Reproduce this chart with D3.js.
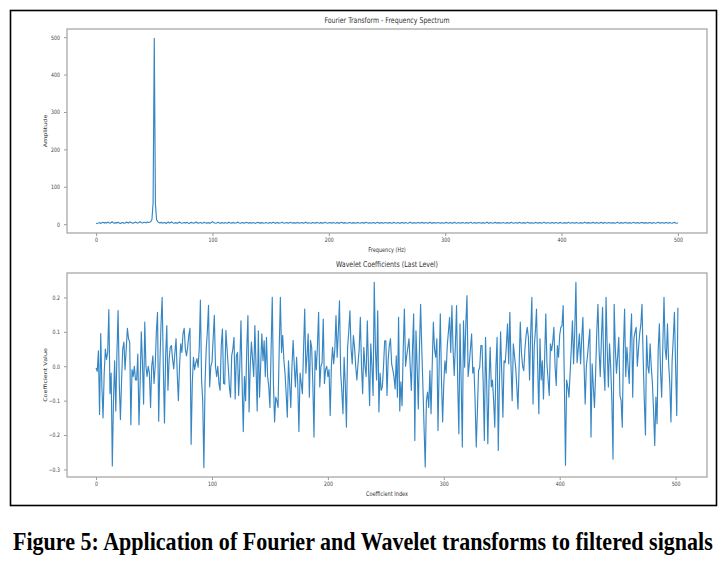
<!DOCTYPE html>
<html>
<head>
<meta charset="utf-8">
<script src="https://cdn.jsdelivr.net/npm/d3@7/dist/d3.min.js"></script>
<style>
  body { margin: 0; background: #fff; }
  svg { display: block; }
  .tick text { font-family: "DejaVu Sans", sans-serif; font-size: 6px; fill: #444; }
  .tick line { stroke: #999; }
  .domain { display: none; }
</style>
</head>
<body>
<svg id="fig" width="725" height="567"></svg>
<script>
// FFT amplitude, bins 0..500 Hz
const fftAmp = [
  1.2,2.5,3.1,4.0,2.2,3.6,5.1,2.8,4.4,3.0,5.6,3.9,2.4,4.8,6.2,3.3,2.7,4.1,3.5,5.0,2.9,1.8,3.7,4.6,2.3,
  3.2,5.4,4.2,3.0,6.0,4.7,3.4,2.6,4.3,5.8,3.8,2.9,4.9,6.4,4.0,3.1,5.2,4.5,3.6,6.1,4.4,5.3,7.0,12.5,58.0,
  497.0,54.0,11.8,6.5,4.2,3.1,5.0,2.7,3.8,4.6,2.2,3.5,5.7,3.0,4.1,6.3,3.3,2.5,4.0,3.6,2.1,4.8,5.5,3.2,2.6,
  3.9,4.4,2.8,5.1,3.4,2.0,3.7,4.9,3.1,2.4,4.2,5.6,3.3,2.9,3.8,4.5,2.6,3.0,5.2,3.6,2.3,4.0,3.4,2.7,4.7,
  6.8,4.1,3.2,2.5,3.9,5.0,3.1,2.2,4.3,3.5,2.8,4.6,3.0,2.4,5.3,3.7,2.9,3.4,4.8,2.6,3.2,4.0,5.5,3.1,2.3,
  3.6,4.4,2.7,3.1,5.0,3.8,2.5,4.2,3.3,2.9,4.6,3.0,2.2,3.9,5.2,3.4,2.8,4.1,3.6,2.4,3.2,4.7,3.0,2.6,4.3,
  3.5,2.9,5.1,3.7,2.3,3.4,4.5,2.8,3.1,4.0,5.4,3.2,2.6,3.8,4.4,2.7,3.3,5.0,3.6,2.5,4.2,3.0,2.9,4.8,3.4,
  2.4,3.7,4.1,2.8,3.2,5.3,3.5,2.6,4.0,3.1,2.3,4.6,3.8,2.9,3.4,4.9,3.0,2.5,4.3,3.6,2.7,3.9,5.1,3.2,2.4,
  3.8,4.2,2.9,3.3,4.7,3.1,2.6,4.4,3.5,2.2,3.7,5.0,3.4,2.8,4.1,3.0,2.5,3.9,4.6,3.2,2.7,4.3,3.6,2.4,3.5,
  4.8,3.1,2.6,3.9,4.4,2.8,3.3,5.2,3.7,2.5,4.0,3.2,2.9,4.5,3.4,2.3,3.6,4.9,3.0,2.7,4.2,3.5,2.4,3.8,4.6,
  3.1,2.8,4.3,3.6,2.5,3.4,5.0,3.2,2.6,4.1,3.7,2.3,3.5,4.7,3.0,2.9,4.4,3.3,2.4,3.9,5.3,3.1,2.7,4.0,3.6,
  2.5,3.8,4.5,2.9,3.2,4.8,3.4,2.6,4.2,3.7,2.3,3.5,5.1,3.0,2.8,4.3,3.6,2.4,3.9,4.6,3.1,2.7,4.0,3.3,2.5,
  3.7,4.9,3.2,2.6,4.4,3.5,2.8,3.4,5.2,3.1,2.4,4.1,3.8,2.9,3.3,4.7,3.0,2.5,4.2,3.6,2.7,3.9,5.0,3.2,2.6,
  4.3,3.4,2.3,3.8,4.5,3.1,2.8,4.0,3.5,2.5,3.6,5.3,3.0,2.7,4.4,3.2,2.4,3.9,4.8,3.3,2.9,4.1,3.6,2.5,3.7,
  4.6,3.1,2.6,4.2,3.4,2.8,3.5,5.0,3.2,2.4,4.0,3.7,2.9,3.3,4.9,3.0,2.5,4.3,3.6,2.7,3.8,5.1,3.4,2.6,4.1,
  3.2,2.3,3.9,4.7,3.1,2.8,4.4,3.5,2.5,3.6,5.2,3.3,2.7,4.0,3.8,2.4,3.4,4.6,3.0,2.9,4.2,3.7,2.6,3.5,4.8,
  3.1,2.5,4.1,3.6,2.8,3.3,5.0,3.2,2.4,4.3,3.9,2.7,3.4,4.5,3.0,2.6,4.0,3.5,2.3,3.7,5.3,3.1,2.8,4.2,3.6,
  2.5,3.8,4.9,3.2,2.7,4.4,3.4,2.6,3.5,5.1,3.0,2.9,4.1,3.7,2.4,3.6,4.6,3.3,2.8,4.0,3.5,2.5,3.9,5.4,3.1,
  2.6,4.3,3.6,2.4,3.8,4.7,3.2,2.9,4.0,3.4,2.5,3.7,5.0,3.1,2.7,4.2,3.5,2.6,3.9,4.8,3.3,2.8,4.1,3.6,2.4,
  3.5,4.5,3.0,2.7,4.3,3.2,2.5,3.8,5.2,3.4,2.9,4.0,3.7,2.3,3.6,4.6,3.1,2.8,4.4,3.3,2.6,3.9,4.9,3.0,2.5,
  3.4
];

// last-level wavelet coefficients, index 0..502
const waveCoef = [
  -0.005,-0.015,0.045,-0.14,0.095,-0.06,-0.15,-0.02,0.05,0.02,0.04,0.165,-0.08,-0.02,-0.29,-0.1,0.016,-0.13,0.04,0.162,-0.05,-0.155,-0.04,0.05,0.07,
  -0.01,0.05,0.11,0.08,0.07,-0.17,-0.01,-0.03,0.0,-0.04,-0.04,0.035,-0.17,-0.05,0.10,0.01,-0.11,0.128,0.0,-0.03,0.0,-0.02,-0.12,0.0,0.03,
  -0.05,0.0,0.1,0.157,-0.16,0.0,0.12,0.2,0.0,-0.165,0.03,0.118,-0.07,0.02,0.055,0.06,0.02,-0.008,0.04,0.08,-0.02,-0.1,0.0,0.065,0.04,
  0.095,0.11,0.05,0.03,0.055,0.09,0.11,-0.227,-0.05,0.026,-0.01,0.01,0.022,-0.003,0.05,0.192,-0.04,-0.1,-0.295,-0.05,0.05,0.1,0.177,-0.06,0.0,
  0.012,0.08,0.148,0.0,-0.03,0.0,-0.05,-0.07,0.06,0.108,-0.05,-0.052,0.104,0.05,0.0,-0.06,-0.09,0.03,0.05,0.084,-0.095,0.03,0.04,-0.085,0.0,
  0.132,-0.05,-0.19,-0.03,-0.1,0.05,0.147,-0.133,0.0,0.07,0.02,-0.03,0.118,0.0,-0.13,0.103,-0.09,0.0,0.094,0.016,0.074,-0.03,0.084,-0.03,-0.06,
  -0.12,0.05,0.2,-0.05,-0.162,-0.09,-0.1,-0.12,0.05,0.2,0.04,0.09,0.02,-0.02,-0.08,-0.148,0.016,-0.05,-0.12,0.0,0.075,0.0,-0.06,0.026,-0.05,
  -0.19,-0.02,-0.05,-0.08,0.05,0.166,-0.02,0.03,0.094,-0.09,0.075,0.055,-0.05,-0.206,0.045,-0.01,0.06,0.157,-0.06,0.0,0.01,0.137,-0.05,-0.01,0.0,
  -0.03,-0.01,-0.143,0.0,0.055,0.007,0.05,0.147,0.026,0.1,0.19,-0.018,-0.07,-0.138,0.026,-0.05,-0.177,0.055,0.1,0.161,0.05,0.007,0.089,0.055,0.0,
  -0.04,0.007,0.05,0.142,0.0,-0.08,0.055,0.0,-0.03,0.132,0.0,-0.114,0.065,0.0,-0.085,0.244,0.05,-0.04,0.161,-0.133,-0.02,-0.07,-0.06,0.0,0.074,
  0.074,-0.085,0.02,0.06,0.08,0.007,-0.01,-0.03,-0.066,0.03,-0.09,0.142,-0.13,-0.045,-0.115,0.05,0.166,0.0,0.03,0.055,0.08,0.0,-0.07,0.05,0.152,
  -0.216,0.103,0.0,-0.124,0.05,0.18,0.05,-0.06,-0.18,-0.293,-0.1,-0.075,-0.12,-0.013,-0.138,0.0,0.128,0.05,0.026,0.08,-0.187,0.0,0.152,-0.04,-0.162,
  -0.05,0.016,-0.02,0.06,0.1,0.142,0.04,0.176,0.05,-0.027,0.06,0.176,-0.05,-0.196,0.123,-0.05,-0.235,0.132,-0.003,0.12,0.205,-0.03,0.007,0.05,0.094,
  -0.02,-0.003,-0.1,-0.235,-0.13,-0.013,-0.003,0.06,0.06,-0.05,-0.216,0.084,-0.05,-0.225,-0.05,0.055,-0.06,-0.04,-0.1,-0.177,0.0,0.084,-0.245,-0.05,0.1,
  -0.02,-0.148,0.016,0.01,0.06,0.123,0.007,0.157,0.0,-0.1,0.065,0.03,-0.003,-0.06,-0.124,0.0,0.128,0.04,0.0,-0.013,0.05,0.09,0.113,0.084,-0.04,
  0.1,0.2,-0.11,0.055,0.1,0.166,0.0,-0.138,0.08,-0.04,0.016,-0.095,0.02,0.152,0.007,-0.04,-0.085,0.065,0.045,0.07,0.113,0.0,-0.056,0.06,0.026,
  0.09,0.113,0.118,0.176,-0.04,-0.288,-0.04,-0.06,-0.09,-0.02,0.05,0.132,0.007,0.1,0.244,0.01,0.05,0.094,0.007,0.08,0.142,0.007,-0.11,0.0,0.03,
  0.07,0.108,-0.206,0.007,-0.06,-0.12,-0.02,0.1,0.18,0.045,-0.03,0.08,0.171,0.0,-0.07,0.2,0.05,-0.06,0.065,0.0,-0.1,-0.27,0.18,0.05,-0.02,
  0.03,0.084,-0.085,-0.1,-0.177,0.05,0.166,-0.03,0.055,0.0,-0.05,0.08,0.152,-0.09,0.08,0.1,0.113,0.0,0.05,0.094,0.12,0.18,0.026,-0.1,-0.2,
  0.089,0.0,-0.02,0.065,0.0,-0.05,-0.13,-0.23,-0.09,-0.167,0.05,0.123,-0.013,-0.09,0.06,0.2,0.05,0.02,0.123,0.007,-0.05,-0.162,0.016,0.08,0.157,
  0.0,-0.143,0.17
];

const fftTicksX = [0, 100, 200, 300, 400, 500];
const fftTicksY = [0, 100, 200, 300, 400, 500];
const waveTicksX = [0, 100, 200, 300, 400, 500];
const waveTicksY = [-0.3, -0.2, -0.1, 0.0, 0.1, 0.2];

const sx = 0.78; // the figure is squeezed sideways, text too
const svg = d3.select("#fig");

// outer frame
svg.append("rect")
  .attr("x", 10.5).attr("y", 10.5)
  .attr("width", 706).attr("height", 495)
  .attr("fill", "none").attr("stroke", "#000").attr("stroke-width", 1.6);

function hText(x, y, str, size, opts) {
  opts = opts || {};
  return svg.append("text")
    .attr("transform", "translate(" + x + "," + y + ")" + (opts.rotate ? " rotate(-90)" : "") + " scale(" + (opts.rotate ? 1 : sx) + "," + (opts.rotate ? sx : 1) + ")")
    .attr("text-anchor", "middle")
    .attr("font-family", opts.family || "DejaVu Sans, sans-serif")
    .attr("font-size", size)
    .attr("fill", opts.fill || "#333")
    .text(str);
}

function panel(box, xs, ys, vals, xTicks, yTicks, yFmt, title, xLabel, yLabel) {
  const g = svg.append("g");
  const x = d3.scaleLinear().domain(xs).range([box.left, box.right]);
  const y = d3.scaleLinear().domain(ys).range([box.bottom, box.top]);

  g.append("g")
    .attr("transform", "translate(0," + box.bottom + ")")
    .call(d3.axisBottom(x).tickValues(xTicks).tickSize(3).tickPadding(2))
    .selectAll("text").attr("transform", "scale(" + sx + ",1)");

  g.append("g")
    .attr("transform", "translate(" + box.left + ",0)")
    .call(d3.axisLeft(y).tickValues(yTicks).tickSize(3).tickFormat(yFmt))
    .selectAll("text")
      .attr("x", -7 / sx)
      .attr("transform", "scale(" + sx + ",1)");

  const line = d3.line()
    .x(function(d, i) { return x(i); })
    .y(function(d) { return y(d); });

  g.append("path")
    .datum(vals)
    .attr("fill", "none")
    .attr("stroke", "#3686c4")
    .attr("stroke-width", 1.15)
    .attr("stroke-linejoin", "round")
    .attr("d", line);

  g.append("rect")
    .attr("x", box.left).attr("y", box.top)
    .attr("width", box.right - box.left).attr("height", box.bottom - box.top)
    .attr("fill", "none").attr("stroke", "#a8a8a8").attr("stroke-width", 1.3);

  const cx = (box.left + box.right) / 2;
  hText(cx, box.top - 6, title, 8);
  hText(cx, box.bottom + 19, xLabel, 6.4);
  hText(box.left - 20, (box.top + box.bottom) / 2, yLabel, 6.4, {rotate: true});
}

// matplotlib-like 5% margins
function padded(lo, hi) {
  const m = (hi - lo) * 0.05;
  return [lo - m, hi + m];
}

panel({left: 67, right: 707, top: 29, bottom: 233},
  padded(0, fftAmp.length - 1), padded(d3.min(fftAmp), d3.max(fftAmp)),
  fftAmp, fftTicksX, fftTicksY, d3.format("d"),
  "Fourier Transform - Frequency Spectrum", "Frequency (Hz)", "Amplitude");

panel({left: 67, right: 707, top: 273, bottom: 477},
  padded(0, waveCoef.length - 1), padded(d3.min(waveCoef), d3.max(waveCoef)),
  waveCoef, waveTicksX, waveTicksY, function(d) { return d3.format(".1f")(d).replace("-", "\u2212"); },
  "Wavelet Coefficients (Last Level)", "Coefficient Index", "Coefficient Value");

// caption: squeeze to the measured width with a transform
const cap = svg.append("text")
  .attr("font-family", "Liberation Serif, Times New Roman, serif")
  .attr("font-weight", "bold")
  .attr("font-size", 26)
  .attr("fill", "#000")
  .text("Figure 5: Application of Fourier and Wavelet transforms to filtered signals");
const capW = cap.node().getComputedTextLength();
cap.attr("transform", "translate(13,550) scale(" + (700 / capW) + ",1)");
</script>
</body>
</html>
